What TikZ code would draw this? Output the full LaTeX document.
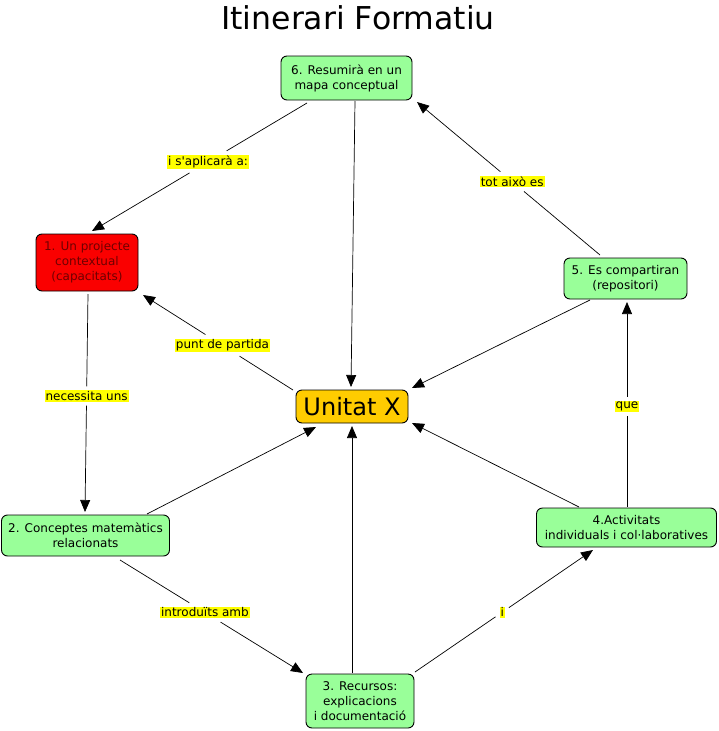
\documentclass[tikz,border=0pt]{standalone}
\usepackage{fontspec}
\setmainfont{DejaVu Sans}[Ligatures=TeXOff]
\usetikzlibrary{calc,arrows.meta}
\definecolor{cgreen}{RGB}{153,255,153}
\definecolor{cred}{RGB}{250,0,0}
\definecolor{cdred}{RGB}{110,0,0}
\definecolor{corange}{RGB}{255,204,0}
\definecolor{cyellow}{RGB}{255,255,0}
\begin{document}
\begin{tikzpicture}[x=1pt,y=-1pt,
  concept/.style={draw=black, line width=0.9pt, rounded corners=6pt, align=center,
    font=\fontsize{12}{15}\selectfont, inner sep=0pt, fill=cgreen},
  lbl/.style={fill=cyellow, inner xsep=1pt, inner ysep=1pt,
    font=\fontsize{12}{14}\selectfont, outer sep=4pt},
  link/.style={draw=black, line width=0.7pt, -{Triangle[length=12pt,width=10pt]}}]

\useasboundingbox (0,0) rectangle (718,731);

\node[font=\fontsize{31.5}{36}\selectfont] (title) at (358,18) {Itinerari Formatiu};

\node[concept, minimum width=131, minimum height=44] (n6) at (346.5,78) {6. Resumirà en un\\mapa conceptual};
\node[concept, fill=cred, text=cdred, minimum width=102, minimum height=57] (n1) at (87,262.5) {1. Un projecte\\contextual\\(capacitats)};
\node[concept, minimum width=123, minimum height=41] (n5) at (625.5,278.5) {5. Es compartiran\\(repositori)};
\node[concept, fill=corange, minimum width=112, minimum height=33, font=\fontsize{24}{28}\selectfont] (nU) at (352,406.5) {Unitat X};
\node[concept, minimum width=168, minimum height=41] (n2) at (85.5,535.5) {2. Conceptes matemàtics\\relacionats};
\node[concept, minimum width=180, minimum height=39] (n4) at (626.5,527.5) {4.Activitats\\individuals i col·laboratives};
\node[concept, minimum width=108, minimum height=54] (n3) at (360,701) {3. Recursos:\\explicacions\\i documentació};

% labels
\path ($(n6)+(-39.5,25)$) -- node[lbl,pos=.46] (l1) {i s'aplicarà a:} ($(n1)+(5,-31.5)$);
\path ($(n5)+(-25.5,-23.5)$) -- node[lbl,pos=.48] (l3) {tot això es} ($(n6)+(70.5,24)$);
\path ($(nU)+(-59,-16.5)$) -- node[lbl,pos=.47] (l5) {punt de partida} ($(n1)+(56,32.5)$);
\path ($(n1)+(1,31.5)$) -- node[lbl,pos=.468] (l6) {necessita uns} ($(n2)+(-0.5,-23.5)$);
\path ($(n2)+(34.5,24.5)$) -- node[lbl,pos=.464] (l8) {introduïts amb} ($(n3)+(-57,-28)$);
\path ($(n3)+(55,-29)$) -- node[lbl,pos=.49] (l10) {i} ($(n4)+(-33.5,22.5)$);
\path ($(n4)+(0.5,-20.5)$) -- node[lbl,pos=.49] (l12) {que} ($(n5)+(1.5,23.5)$);

% connectors
\draw[link] ($(n6)+(-39.5,25)$) -- (l1) -- ($(n1)+(5,-31.5)$);
\draw[link] ($(n6)+(8.5,23)$) -- ($(nU)+(-1,-19.5)$);
\draw[link] ($(n5)+(-25.5,-23.5)$) -- (l3) -- ($(n6)+(70.5,24)$);
\draw[link] ($(n5)+(-35.5,21.5)$) -- ($(nU)+(60,-18.5)$);
\draw[link] ($(nU)+(-59,-16.5)$) -- (l5) -- ($(n1)+(56,32.5)$);
\draw[link] ($(n1)+(1,31.5)$) -- (l6) -- ($(n2)+(-0.5,-23.5)$);
\draw[link] ($(n2)+(61.5,-21.5)$) -- ($(nU)+(-36,20.5)$);
\draw[link] ($(n2)+(34.5,24.5)$) -- (l8) -- ($(n3)+(-57,-28)$);
\draw[link] ($(n3)+(-8,-28)$) -- ($(nU)+(0,19.5)$);
\draw[link] ($(n3)+(55,-29)$) -- (l10) -- ($(n4)+(-33.5,22.5)$);
\draw[link] ($(n4)+(-47.5,-20.5)$) -- ($(nU)+(60,16.5)$);
\draw[link] ($(n4)+(0.5,-20.5)$) -- (l12) -- ($(n5)+(1.5,23.5)$);
\end{tikzpicture}
\end{document}
